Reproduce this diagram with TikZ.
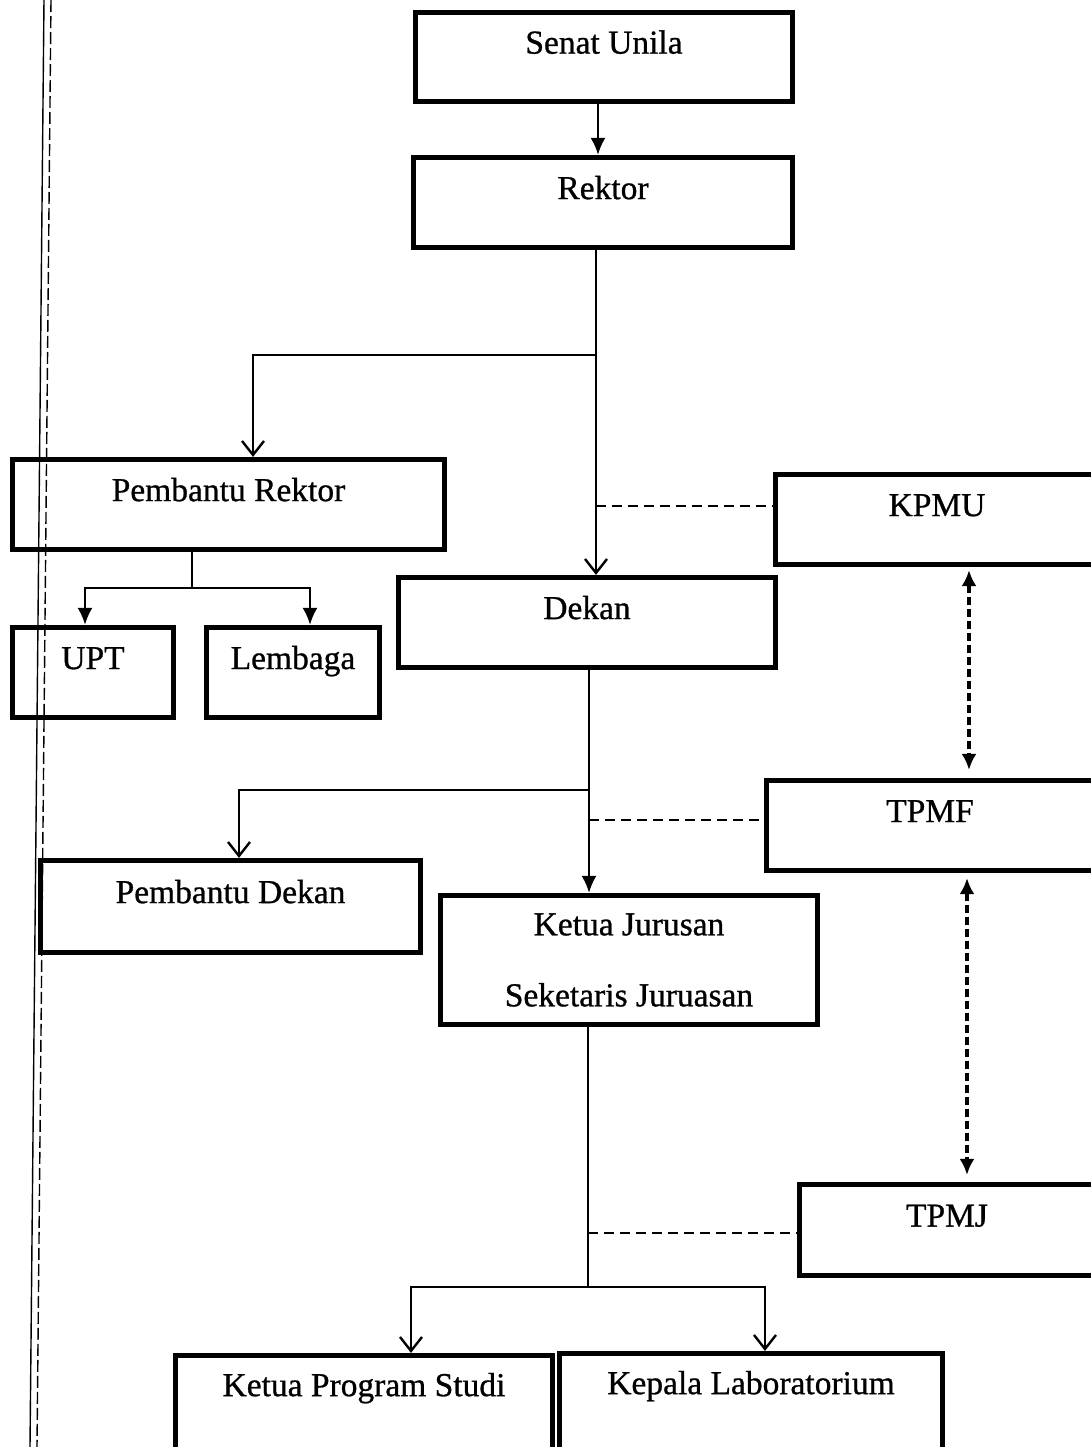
\documentclass[tikz,border=0pt]{standalone}
\usepackage{fontspec}
\setmainfont{Liberation Serif}[FakeBold=0.8,AutoFakeBold=0.8]
\usepackage{tikz}
\usetikzlibrary{positioning}
\usetikzlibrary{arrows.meta}
\tikzstyle{unit} = [rectangle, draw, line width=2.6pt, text centered, inner ysep=0pt,
                font=\fontsize{16.75}{20}\selectfont\bfseries, text height=12pt, text depth=15.4pt]
\tikzstyle{unitwide} = [rectangle, draw, line width=2.6pt, align=center, inner ysep=0pt,
                font=\fontsize{16.75}{20}\selectfont\bfseries]
\tikzstyle{trunk} = [draw, line width=1.2pt]
\tikzstyle{line} = [draw, line width=1.2pt, -{Latex[length=8.5pt,width=7.5pt]}]
\tikzstyle{vline} = [draw, line width=1.2pt, -{Straight Barb[length=7pt,width=11pt]}]
\tikzstyle{link} = [draw, line width=1.2pt, dash pattern=on 5pt off 3pt]
\tikzstyle{twoway} = [draw, line width=1.6pt, dash pattern=on 4pt off 2pt,
                {Latex[length=8pt,width=7.5pt]}-{Latex[length=8pt,width=7.5pt]}]
\tikzstyle{margin} = [draw, line width=0.7pt]

\begin{document}
\begin{tikzpicture}[x=0.5pt, y=-0.5pt]
                \clip (0,0) rectangle (1091,1447);
                \path[margin] (44,0) -- (30,1447);
                \path[margin, dash pattern=on 6pt off 2pt] (51,0) -- (37,1447);
                \node[unit, minimum width=188.5pt, minimum height=44.5pt] (senat) at (604,57) {Senat Unila};
                \node[unit, minimum width=189.5pt, minimum height=45pt] (rektor) at (603,202.5) {Rektor};
                \node[unit, minimum width=216pt, minimum height=45pt] (pr) at (228.5,504.5) {Pembantu Rektor};
                \node[unit, minimum width=161.5pt, minimum height=45pt] (kpmu) at (937,519.5) {KPMU};
                \node[unit, minimum width=188.5pt, minimum height=45pt] (dekan) at (587,622.5) {Dekan};
                \node[unit, minimum width=80.5pt, minimum height=45pt] (upt) at (93,672.5) {UPT};
                \node[unit, minimum width=86.5pt, minimum height=45pt] (lembaga) at (293,672.5) {Lembaga};
                \node[unit, minimum width=163.5pt, minimum height=45pt] (tpmf) at (930,825.5) {TPMF};
                \node[unit, minimum width=190pt, minimum height=46pt] (pd) at (230.5,906.5) {Pembantu Dekan};
                \node[unitwide, minimum width=188.5pt, minimum height=64.5pt] (kj) at (629,960) {Ketua Jurusan\\[15.5pt]Seketaris Juruasan};
                \node[unit, minimum width=147.5pt, minimum height=45.5pt] (tpmj) at (947,1230) {TPMJ};
                \node[unitwide, minimum width=188.5pt, minimum height=64.5pt] (kps) at (364,1420) {Ketua Program Studi\\[15.5pt]\mbox{}};
                \node[unitwide, minimum width=191.5pt, minimum height=64.5pt] (klab) at (751,1418) {Kepala Laboratorium\\[15.5pt]\mbox{}};
                \coordinate (rk) at (596,355);
                \coordinate (pj) at (192,588);
                \coordinate (dk) at (589,790);
                \coordinate (kb) at (588,1287);
                \coordinate (sn) at ([xshift=-3pt]senat.south);
                \coordinate (kpmuin) at ([yshift=6.75pt]kpmu.west);
                \coordinate (tpmfin) at ([yshift=2.75pt]tpmf.west);
                \coordinate (tpmjin) at ([yshift=-1.5pt]tpmj.west);
                \coordinate (kq) at ([xshift=16pt]kpmu.south);
                \coordinate (tq) at ([xshift=18.5pt]tpmf.south);
                \path[line] (sn) -- (sn |- rektor.north);
                \path[trunk] (rektor.south -| rk) -- (rk);
                \path[vline] (rk) -| ([xshift=12.25pt]pr.north);
                \path[vline] (rk) -- (rk |- dekan.north);
                \path[link] (kpmuin -| rk) -- (kpmuin);
                \path[trunk] (pr.south -| pj) -- (pj);
                \path[line] (pj) -| ([xshift=-4pt]upt.north);
                \path[line] (pj) -| ([xshift=8.5pt]lembaga.north);
                \path[trunk] (dekan.south -| dk) -- (dk);
                \path[vline] (dk) -| ([xshift=4.25pt]pd.north);
                \path[line] (dk) -- (dk |- kj.north);
                \path[link] (tpmfin -| dk) -- (tpmfin);
                \path[twoway, shorten <=1.5pt, shorten >=4pt] (kq) -- (kq |- tpmf.north);
                \path[twoway, shorten <=2.5pt, shorten >=3.5pt] (tq) -- (tq |- tpmj.north);
                \path[trunk] (kj.south -| kb) -- (kb);
                \path[vline] (kb) -| ([xshift=23.5pt]kps.north);
                \path[vline] (kb) -| ([xshift=7pt]klab.north);
                \path[link] (tpmjin -| kb) -- (tpmjin);
            \end{tikzpicture}
\end{document}
